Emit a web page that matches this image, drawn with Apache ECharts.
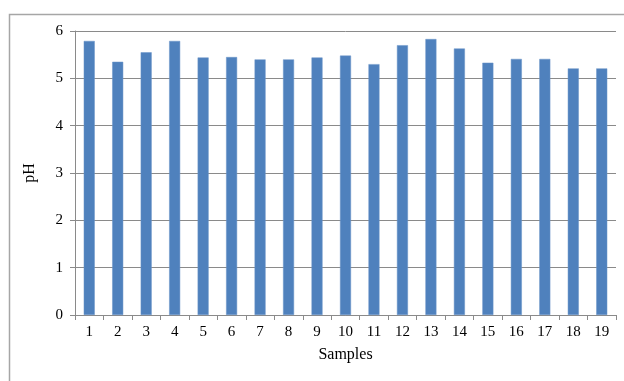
<!DOCTYPE html>
<html>
<head>
<meta charset="utf-8">
<script src="https://cdn.jsdelivr.net/npm/echarts@6/dist/echarts.min.js"></script>
<style>
  html, body { margin: 0; padding: 0; background: #ffffff; }
  #chart { width: 624px; height: 381px; }
</style>
</head>
<body>
<div id="chart"></div>
<script>
// Sample numbers along the x axis
const samples = ['1','2','3','4','5','6','7','8','9','10','11','12','13','14','15','16','17','18','19'];
// Measured pH of each sample
const phValues = [5.79, 5.35, 5.55, 5.79, 5.44, 5.45, 5.40, 5.40, 5.44, 5.48, 5.30, 5.70, 5.83, 5.63, 5.33, 5.41, 5.41, 5.21, 5.21];
// Value axis range
const yMin = 0;
const yMax = 6;
const yStep = 1;

const axisGray = '#8a8a8a';
const serif = '"Liberation Serif", "Times New Roman", serif';

const chart = echarts.init(document.getElementById('chart'), null, { renderer: 'canvas' });

chart.setOption({
  animation: false,
  backgroundColor: '#ffffff',
  graphic: [{
    type: 'rect',
    left: 7,
    top: 12,
    shape: { width: 700, height: 500 },
    style: { fill: 'none', stroke: '#a6a6a6', lineWidth: 1.5 },
    silent: true,
    z: -1
  }],
  grid: { left: 75, right: 8, top: 31, bottom: 66 },
  xAxis: {
    type: 'category',
    data: samples,
    boundaryGap: true,
    name: 'Samples',
    nameLocation: 'middle',
    nameGap: 32,
    nameTextStyle: { fontFamily: serif, fontSize: 16, color: '#000' },
    axisLine: { lineStyle: { color: axisGray, width: 1 } },
    axisTick: { show: true, alignWithLabel: false, length: 5, lineStyle: { color: axisGray } },
    axisLabel: { fontFamily: serif, fontSize: 15, color: '#000', margin: 10 },
    splitLine: { show: false }
  },
  yAxis: {
    type: 'value',
    min: yMin,
    max: yMax,
    interval: yStep,
    name: 'pH',
    nameLocation: 'middle',
    nameGap: 37,
    nameRotate: 90,
    nameTextStyle: { fontFamily: serif, fontSize: 16, color: '#000' },
    axisLine: { show: true, lineStyle: { color: axisGray, width: 1 } },
    axisTick: { show: true, length: 5, lineStyle: { color: axisGray } },
    axisLabel: { fontFamily: serif, fontSize: 15, color: '#000', margin: 12 },
    splitLine: { show: true, lineStyle: { color: axisGray, width: 1 } }
  },
  series: [{
    type: 'bar',
    data: phValues,
    barWidth: 11,
    itemStyle: { color: '#4f81bd', borderColor: '#6a95c9', borderWidth: 0.5 }
  }]
});
</script>
</body>
</html>
